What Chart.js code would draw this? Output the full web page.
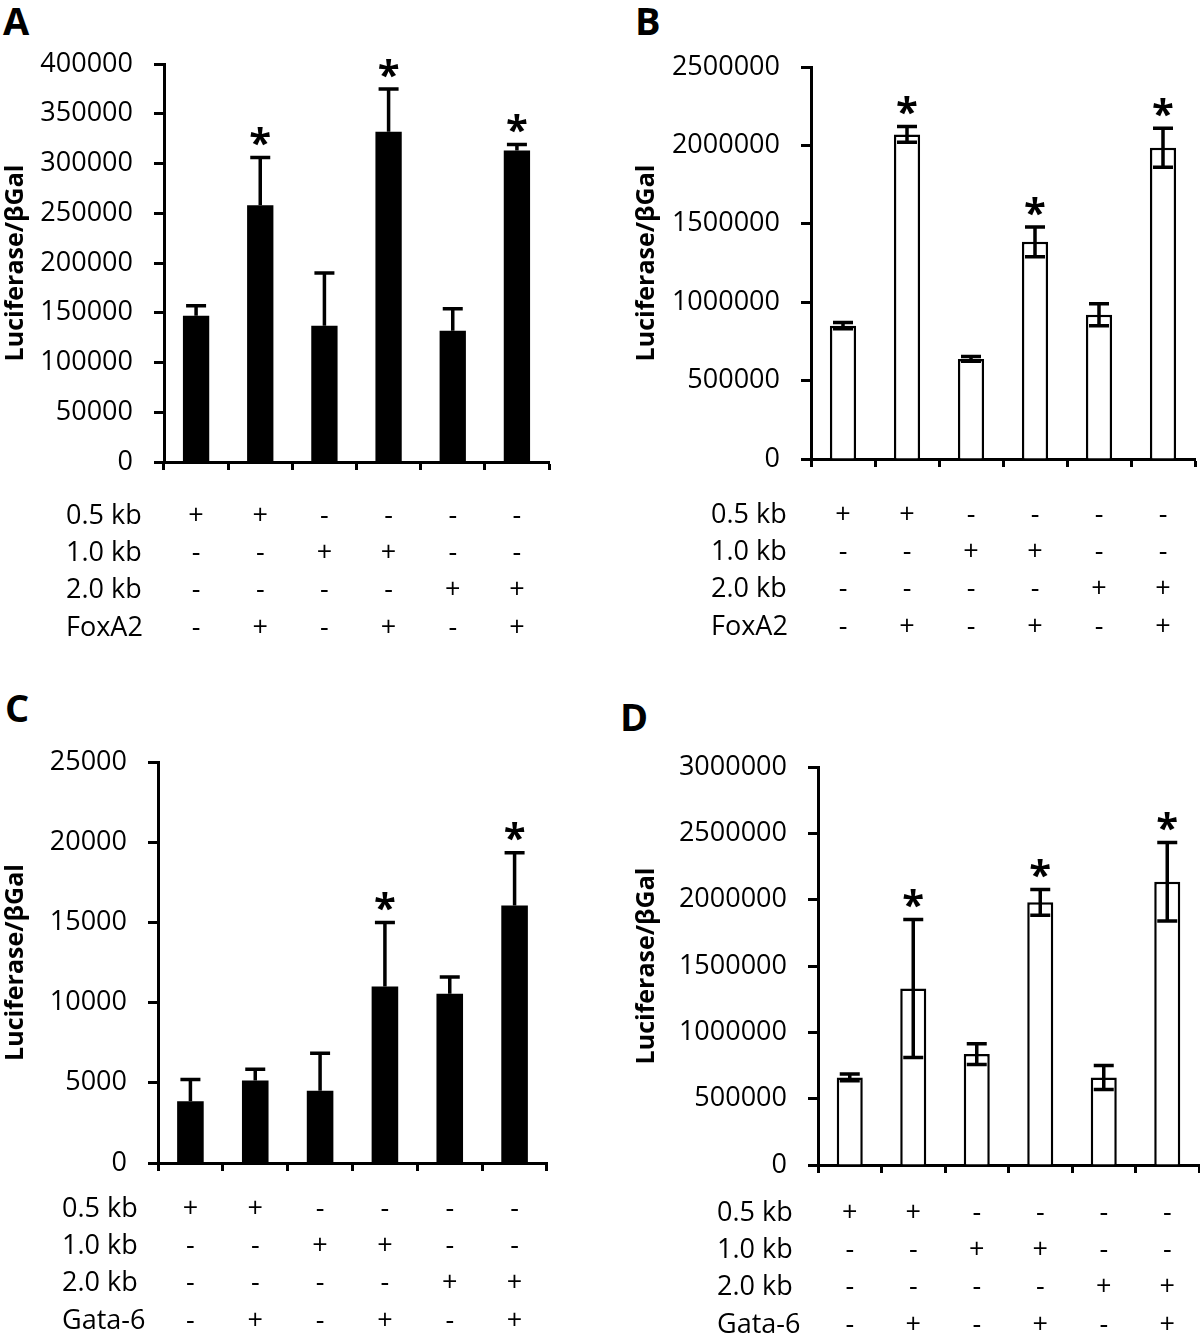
<!DOCTYPE html>
<html>
<head>
<meta charset="utf-8">
<script src="https://cdn.jsdelivr.net/npm/chart.js@4.4.1/dist/chart.umd.min.js"></script>
<style>
  body { margin: 0; background: #fff; }
  #wrap { position: relative; width: 1200px; height: 1335px; background: #fff; }
  canvas { position: absolute; }
  .letter { position: absolute; font: bold 38px "Open Sans"; line-height: 1; color: #000; }
</style>
</head>
<body>
<div id="wrap">
  <div class="letter" style="left:3px;top:1px">A</div>
  <div class="letter" style="left:635px;top:1px">B</div>
  <div class="letter" style="left:5px;top:688px">C</div>
  <div class="letter" style="left:620px;top:697px">D</div>
  <canvas id="chartA" width="600" height="667" style="left:0;top:0"></canvas>
  <canvas id="chartB" width="600" height="667" style="left:600px;top:0"></canvas>
  <canvas id="chartC" width="600" height="668" style="left:0;top:667px"></canvas>
  <canvas id="chartD" width="600" height="668" style="left:600px;top:667px"></canvas>
</div>
<script>
// constructs tested, one bar each
const categories = ["0.5 kb", "0.5 kb + TF", "1.0 kb", "1.0 kb + TF", "2.0 kb", "2.0 kb + TF"];

// condition table under each chart
const rowNamesFox = ["0.5 kb", "1.0 kb", "2.0 kb", "FoxA2"];
const rowNamesGata = ["0.5 kb", "1.0 kb", "2.0 kb", "Gata-6"];
const conditionRows = [
    ["+", "+", "-", "-", "-", "-"],
    ["-", "-", "+", "+", "-", "-"],
    ["-", "-", "-", "-", "+", "+"],
    ["-", "+", "-", "+", "-", "+"]
];

// A: FoxA2, black bars
const meansA = [147000, 258000, 137000, 332000, 132000, 313000];
const errA = [10000, 48000, 53000, 43000, 22000, 6000];
const starsA = [0, 1, 0, 1, 0, 1];
const yMaxA = 400000, yStepA = 50000;

// B: FoxA2, white bars
const meansB = [850000, 2070000, 638000, 1385000, 920000, 1985000];
const errB = [20000, 50000, 15000, 95000, 70000, 125000];
const starsB = [0, 1, 0, 1, 0, 1];
const yMaxB = 2500000, yStepB = 500000;

// C: Gata-6, black bars
const meansC = [3850, 5150, 4500, 11000, 10550, 16050];
const errC = [1350, 700, 2350, 4000, 1050, 3300];
const starsC = [0, 0, 0, 1, 0, 1];
const yMaxC = 25000, yStepC = 5000;

// D: Gata-6, white bars
const meansD = [660000, 1330000, 836000, 1980000, 660000, 2135000];
const errD = [25000, 520000, 78000, 97000, 90000, 295000];
const starsD = [0, 1, 0, 1, 0, 1];
const yMaxD = 3000000, yStepD = 500000;

const FONT = "Open Sans";

// error bars, asterisks and the +/- table
const annotate = {
    id: "annotate",
    afterDatasetsDraw(chart, args, opts) {
        let ctx = chart.ctx;
        let x = chart.scales.x;
        let y = chart.scales.y;
        let means = chart.data.datasets[0].data;

        ctx.save();
        ctx.strokeStyle = "#000";
        ctx.fillStyle = "#000";
        ctx.lineWidth = 3.5;

        means.forEach((m, i) => {
            let cx = x.getPixelForValue(i);
            let hi = y.getPixelForValue(m + opts.err[i]);
            let lo = y.getPixelForValue(opts.twoSided ? m - opts.err[i] : m);

            ctx.beginPath();
            ctx.moveTo(cx, lo);
            ctx.lineTo(cx, hi);
            ctx.moveTo(cx - 10, hi);
            ctx.lineTo(cx + 10, hi);
            if (opts.twoSided) {
                ctx.moveTo(cx - 10, lo);
                ctx.lineTo(cx + 10, lo);
            }
            ctx.stroke();

            if (opts.stars[i]) {
                ctx.font = "bold 40px '" + FONT + "'";
                ctx.textAlign = "center";
                ctx.textBaseline = "alphabetic";
                ctx.fillText("*", cx, hi - 23 + 0.57 * 40);
            }
        });

        ctx.font = "27px '" + FONT + "'";
        ctx.textBaseline = "middle";
        opts.rows.forEach((row, r) => {
            let ry = y.bottom + opts.rowStart + r * 37.3;
            ctx.textAlign = "left";
            ctx.fillText(opts.rowNames[r], opts.rowLabelX, ry);
            ctx.textAlign = "center";
            row.forEach((s, i) => ctx.fillText(s, x.getPixelForValue(i), ry));
        });
        ctx.restore();
    }
};

function makeChart(id, c) {
    let white = c.fill !== "#000";
    return new Chart(document.getElementById(id), {
        type: "bar",
        data: {
            labels: categories,
            datasets: [{
                data: c.means,
                backgroundColor: c.fill,
                borderColor: "#000",
                borderWidth: white ? 2.5 : 0,
                barPercentage: 0.41,
                categoryPercentage: 1
            }]
        },
        options: {
            responsive: false,
            animation: false,
            layout: { padding: c.pad },
            plugins: {
                legend: { display: false },
                tooltip: { enabled: false },
                annotate: {
                    err: c.err,
                    stars: c.stars,
                    twoSided: white,
                    rows: conditionRows,
                    rowNames: c.rowNames,
                    rowStart: c.rowStart,
                    rowLabelX: c.rowLabelX
                }
            },
            scales: {
                x: {
                    ticks: { display: false },
                    grid: { drawOnChartArea: false, tickLength: 8, tickWidth: 3, tickColor: "#000" },
                    border: { color: "#000", width: 3 },
                    afterFit: s => { s.height = 8; }
                },
                y: {
                    min: 0,
                    max: c.yMax,
                    ticks: {
                        stepSize: c.yStep,
                        color: "#000",
                        padding: 21,
                        font: { family: FONT, size: 27 },
                        callback: v => String(v)
                    },
                    grid: { drawOnChartArea: false, tickLength: 10, tickWidth: 3, tickColor: "#000" },
                    border: { color: "#000", width: 3 },
                    title: {
                        display: true,
                        text: "Luciferase/βGal",
                        color: "#000",
                        font: { family: FONT, size: 25, weight: "bold" },
                        padding: { top: 1, bottom: 0 }
                    },
                    afterFit: s => { s.width = c.yWidth; }
                }
            }
        },
        plugins: [annotate]
    });
}

makeChart("chartA", {
    means: meansA, err: errA, stars: starsA, fill: "#000", yMax: yMaxA, yStep: yStepA,
    rowNames: rowNamesFox, rowStart: 54, rowLabelX: 66,
    yWidth: 164, pad: { left: 0, right: 51, top: 64, bottom: 197 }
});
makeChart("chartB", {
    means: meansB, err: errB, stars: starsB, fill: "#fff", yMax: yMaxB, yStep: yStepB,
    rowNames: rowNamesFox, rowStart: 56, rowLabelX: 111,
    yWidth: 180, pad: { left: 31, right: 5, top: 67, bottom: 200 }
});
makeChart("chartC", {
    means: meansC, err: errC, stars: starsC, fill: "#000", yMax: yMaxC, yStep: yStepC,
    rowNames: rowNamesGata, rowStart: 46, rowLabelX: 62,
    yWidth: 158, pad: { left: 0, right: 53, top: 95, bottom: 164 }
});
makeChart("chartD", {
    means: meansD, err: errD, stars: starsD, fill: "#fff", yMax: yMaxD, yStep: yStepD,
    rowNames: rowNamesGata, rowStart: 48, rowLabelX: 117,
    yWidth: 187, pad: { left: 31, right: 1, top: 100, bottom: 162 }
});
</script>
</body>
</html>
